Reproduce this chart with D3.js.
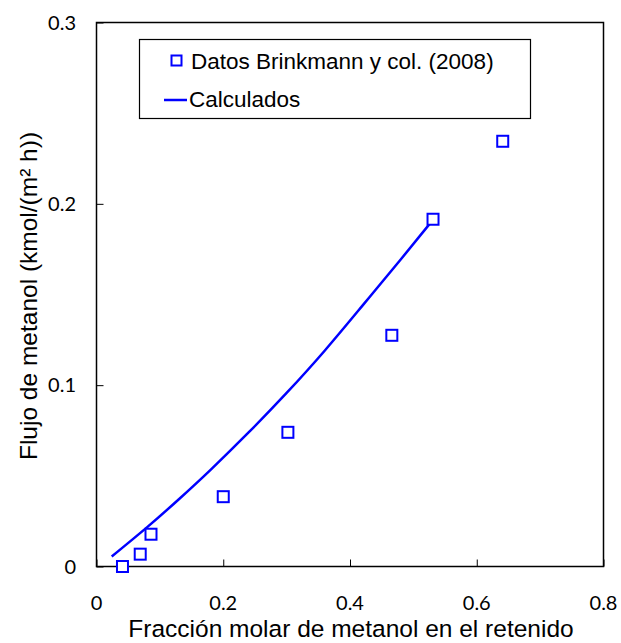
<!DOCTYPE html>
<html>
<head>
<meta charset="utf-8">
<script src="https://cdn.jsdelivr.net/npm/d3@7"></script>
<style>
body { margin:0; background:#fff; }
svg { display:block; }
</style>
</head>
<body>
<svg id="chart" width="621" height="643"></svg>
<script>
// Data
const dataX = [0.041, 0.069, 0.086, 0.200, 0.302, 0.466, 0.531, 0.641];
const dataY = [0.000, 0.0068, 0.0178, 0.0385, 0.0740, 0.1275, 0.1915, 0.2345];
const calcX = [0.024, 0.08, 0.13, 0.18, 0.24, 0.30, 0.36, 0.42, 0.48, 0.527];
const calcY = [0.0055, 0.0217, 0.0371, 0.0533, 0.0739, 0.0957, 0.1190, 0.1440, 0.1693, 0.1895];
const xTicks = [0, 0.2, 0.4, 0.6, 0.8];
const yTicks = [0, 0.1, 0.2, 0.3];
const xTickLabels = ["0", "0.2", "0.4", "0.6", "0.8"];
const yTickLabels = ["0", "0.1", "0.2", "0.3"];
const legendLabels = ["Datos Brinkmann y col. (2008)", "Calculados"];
const xTitle = "Fracción molar de metanol en el retenido";
const yTitle = "Flujo de metanol (kmol/(m² h))";

const svg = d3.select("#chart");
const L = 96.5, R = 603.5, T = 22.5, B = 566.5;
const x = d3.scaleLinear().domain([0, 0.8]).range([L, R]);
const y = d3.scaleLinear().domain([0, 0.3]).range([B, T]);
const blue = "#0000ff";

// frame
svg.append("rect").attr("x", L).attr("y", T).attr("width", R - L).attr("height", B - T)
  .attr("fill", "none").attr("stroke", "#000").attr("stroke-width", 1.5);

// x ticks (inward)
const xAxis = d3.axisBottom(x).tickValues(xTicks).tickSize(-7).tickFormat("");
const gx = svg.append("g").attr("transform", `translate(0,${B})`).call(xAxis);
gx.select(".domain").remove();
gx.selectAll(".tick line").attr("stroke", "#000").attr("stroke-width", 1);
svg.append("g").selectAll("text").data(xTicks).join("text")
  .attr("x", d => x(d)).attr("y", 610)
  .attr("text-anchor", "middle")
  .attr("font-family", "Lato, 'Open Sans', sans-serif").attr("font-size", 20)
  .attr("fill", "#000")
  .text((d, i) => xTickLabels[i]);

// y ticks (inward)
const yAxis = d3.axisLeft(y).tickValues(yTicks).tickSize(-7).tickFormat("");
const gy = svg.append("g").attr("transform", `translate(${L},0)`).call(yAxis);
gy.select(".domain").remove();
gy.selectAll(".tick line").attr("stroke", "#000").attr("stroke-width", 1);
svg.append("g").selectAll("text").data(yTicks).join("text")
  .attr("x", 76).attr("y", d => y(d) + 7)
  .attr("text-anchor", "end")
  .attr("font-family", "Lato, 'Open Sans', sans-serif").attr("font-size", 20)
  .attr("fill", "#000")
  .text((d, i) => yTickLabels[i]);

// calculated line
const line = d3.line().x(d => x(d[0])).y(d => y(d[1])).curve(d3.curveNatural);
svg.append("path").datum(calcX.map((v, i) => [v, calcY[i]]))
  .attr("d", line).attr("fill", "none").attr("stroke", blue).attr("stroke-width", 2.5);

// data squares
const s = 11;
svg.append("g").selectAll("rect").data(dataX.map((v, i) => [v, dataY[i]])).join("rect")
  .attr("x", d => x(d[0]) - s / 2).attr("y", d => y(d[1]) - s / 2)
  .attr("width", s).attr("height", s)
  .attr("fill", "#fff").attr("stroke", blue).attr("stroke-width", 2);

// legend
const lg = svg.append("g");
lg.append("rect").attr("x", 139.5).attr("y", 39.5).attr("width", 391).attr("height", 79)
  .attr("fill", "#fff").attr("stroke", "#000").attr("stroke-width", 1.2);
lg.append("rect").attr("x", 171.5).attr("y", 55.5).attr("width", 10).attr("height", 10)
  .attr("fill", "#fff").attr("stroke", blue).attr("stroke-width", 2);
lg.append("line").attr("x1", 164).attr("x2", 187).attr("y1", 100).attr("y2", 100)
  .attr("stroke", blue).attr("stroke-width", 2.5);
lg.selectAll("text").data(legendLabels).join("text")
  .attr("x", (d, i) => i === 0 ? 191 : 189)
  .attr("y", (d, i) => i === 0 ? 69 : 107)
  .attr("font-family", "'Liberation Sans', Arial, sans-serif").attr("font-size", 22.5)
  .attr("fill", "#000")
  .text(d => d);

// axis titles
svg.append("text").attr("x", 351).attr("y", 637)
  .attr("text-anchor", "middle")
  .attr("font-family", "'Liberation Sans', Arial, sans-serif").attr("font-size", 24.5)
  .attr("fill", "#000").text(xTitle);
svg.append("text").attr("transform", "translate(37,296) rotate(-90)")
  .attr("text-anchor", "middle")
  .attr("font-family", "'Liberation Sans', Arial, sans-serif").attr("font-size", 24.5)
  .attr("fill", "#000").text(yTitle);
</script>
</body>
</html>
